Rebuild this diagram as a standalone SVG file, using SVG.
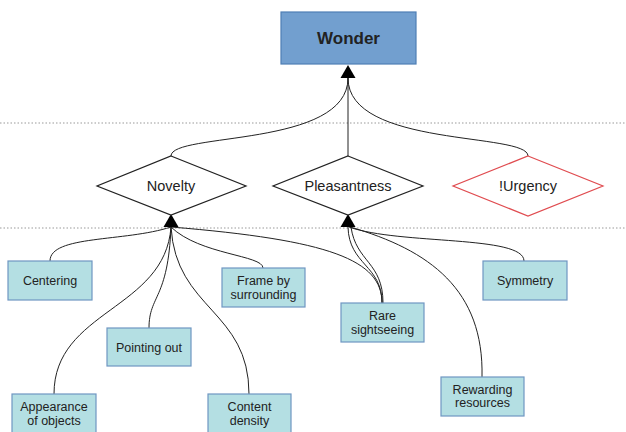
<svg xmlns="http://www.w3.org/2000/svg" xmlns:xlink="http://www.w3.org/1999/xlink" width="626" height="432" viewBox="0 0 626 432">
<style>
text{font-family:"Liberation Sans",Arial,sans-serif;fill:#222;text-anchor:middle}
.box{fill:#b4dfe3;stroke:#6f97c2;stroke-width:1.2}
.dia{fill:#fff;stroke:#222;stroke-width:1.2}
.lbl{font-size:14.5px}
.sm{font-size:12.5px}
.c{fill:none;stroke:#222;stroke-width:1}
.sep{stroke:#999;stroke-width:1;stroke-dasharray:1.5,2}
</style>
<defs>
<path id="ah" d="M0,0 L-7.5,13 L7.5,13 Z" fill="#000"/>
</defs>
<rect width="626" height="432" fill="#fff"/>
<g id="separators">
<line class="sep" x1="0" y1="123" x2="626" y2="123"/>
<line class="sep" x1="0" y1="228" x2="626" y2="228"/>
</g>
<g id="connectors">
<path class="c" d="M171,156 C171,132 348,148 348,78"/>
<path class="c" d="M348,156 L348,78"/>
<path class="c" d="M528,156 C528,132 348,148 348,78"/>
<path class="c" d="M50,261 C50,235 125,242 171,227"/>
<path class="c" d="M54,394 C54,310 165,310 171,227"/>
<path class="c" d="M149,328 C149,295 168,300 171,227"/>
<path class="c" d="M249,394 C249,310 176,310 171,227"/>
<path class="c" d="M263,268 C263,255 200,255 171,227"/>
<path class="c" d="M382,303 C382,260 330,240 171,227"/>
<path class="c" d="M382,303 C382,265 349,265 348,227"/>
<path class="c" d="M383,303 C383,262 356,262 351,227"/>
<path class="c" d="M524,261 C524,235 400,245 349,227"/>
<path class="c" d="M482,377 C484,290 430,250 350,227"/>
<use xlink:href="#ah" x="348" y="65"/>
<use xlink:href="#ah" x="171" y="214"/>
<use xlink:href="#ah" x="348" y="214"/>
</g>
<g id="wonder">
<rect x="281" y="12" width="135" height="52" fill="#729fcf" stroke="#4f7fb5" stroke-width="1.2"/>
<text x="348.5" y="44" style="font-size:17px;font-weight:bold">Wonder</text>
</g>
<g id="novelty">
<polygon class="dia" points="171,156 246,186 171,215 97,186"/>
<text class="lbl" x="171" y="191">Novelty</text>
</g>
<g id="pleasantness">
<polygon class="dia" points="348,156 423,186 348,215 273,186"/>
<text class="lbl" x="348" y="191">Pleasantness</text>
</g>
<g id="urgency">
<polygon points="528,156 603,186 528,216 453,186" fill="#fff" stroke="#e04c50" stroke-width="1.2"/>
<text class="lbl" x="528" y="191">!Urgency</text>
</g>
<g id="centering">
<rect class="box" x="8" y="261" width="84" height="39"/>
<text class="sm" x="50" y="285">Centering</text>
</g>
<g id="frame">
<rect class="box" x="222" y="268" width="83" height="39"/>
<text class="sm" x="263.5" y="285">Frame by</text>
<text class="sm" x="263.5" y="299">surrounding</text>
</g>
<g id="pointing">
<rect class="box" x="107" y="328" width="84" height="38"/>
<text class="sm" x="149" y="352">Pointing out</text>
</g>
<g id="appearance">
<rect class="box" x="12" y="394" width="84" height="40"/>
<text class="sm" x="54" y="411">Appearance</text>
<text class="sm" x="54" y="425">of objects</text>
</g>
<g id="content">
<rect class="box" x="208" y="394" width="83" height="40"/>
<text class="sm" x="249.5" y="411">Content</text>
<text class="sm" x="249.5" y="425">density</text>
</g>
<g id="rare">
<rect class="box" x="341" y="303" width="83" height="39"/>
<text class="sm" x="382.5" y="320">Rare</text>
<text class="sm" x="382.5" y="334">sightseeing</text>
</g>
<g id="symmetry">
<rect class="box" x="483" y="261" width="84" height="39"/>
<text class="sm" x="525" y="285">Symmetry</text>
</g>
<g id="rewarding">
<rect class="box" x="441" y="377" width="83" height="39"/>
<text class="sm" x="482.5" y="394">Rewarding</text>
<text class="sm" x="482.5" y="407">resources</text>
</g>
</svg>
